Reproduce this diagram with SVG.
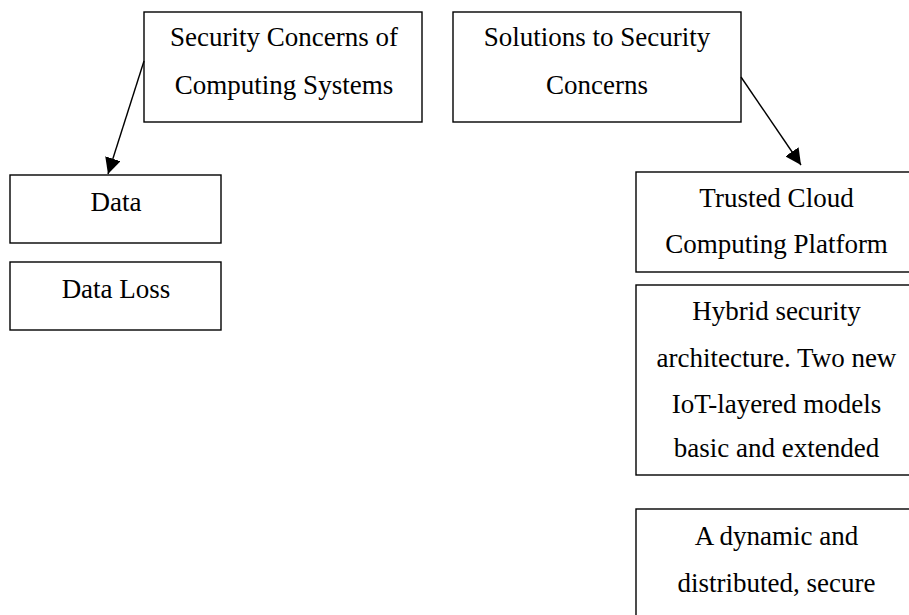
<svg xmlns="http://www.w3.org/2000/svg" width="909" height="615" viewBox="0 0 909 615">
<defs>
<style>
.box{fill:#fff;stroke:#000;stroke-width:1.4}
.t{font-family:"Liberation Serif","Times New Roman",serif;font-size:27px;fill:#000;text-anchor:middle}
.edge{stroke:#000;stroke-width:1.4;fill:none}
</style>
<marker id="arr" markerWidth="16" markerHeight="16" viewBox="0 0 16 16" refX="16" refY="8" orient="auto" markerUnits="userSpaceOnUse">
<path d="M0,0 L16,8 L0,16 Z" fill="#000"/>
</marker>
</defs>
<rect width="909" height="615" fill="#fff"/>
<g id="n-security-concerns">
<rect class="box" x="144" y="12" width="278" height="110"/>
<text class="t" x="284" y="46">Security Concerns of</text>
<text class="t" x="284" y="94">Computing Systems</text>
</g>
<g id="n-solutions">
<rect class="box" x="453" y="12" width="288" height="110"/>
<text class="t" x="597" y="46">Solutions to Security</text>
<text class="t" x="597" y="94">Concerns</text>
</g>
<g id="n-data">
<rect class="box" x="10" y="175" width="211" height="68"/>
<text class="t" x="116" y="211">Data</text>
</g>
<g id="n-data-loss">
<rect class="box" x="10" y="262" width="211" height="68"/>
<text class="t" x="116" y="298">Data Loss</text>
</g>
<g id="n-trusted">
<rect class="box" x="636" y="172" width="281" height="100"/>
<text class="t" x="776.5" y="207">Trusted Cloud</text>
<text class="t" x="776.5" y="253">Computing Platform</text>
</g>
<g id="n-hybrid">
<rect class="box" x="636" y="285" width="281" height="190"/>
<text class="t" x="776.5" y="320">Hybrid security</text>
<text class="t" x="776.5" y="367">architecture. Two new</text>
<text class="t" x="776.5" y="413">IoT-layered models</text>
<text class="t" x="776.5" y="457">basic and extended</text>
</g>
<g id="n-dynamic">
<rect class="box" x="636" y="509" width="281" height="120"/>
<text class="t" x="776.5" y="545">A dynamic and</text>
<text class="t" x="776.5" y="592">distributed, secure</text>
</g>
<g id="connectors">
<line class="edge" x1="144" y1="61" x2="108" y2="174" marker-end="url(#arr)"/>
<line class="edge" x1="741" y1="77" x2="801" y2="165" marker-end="url(#arr)"/>
</g>
</svg>
